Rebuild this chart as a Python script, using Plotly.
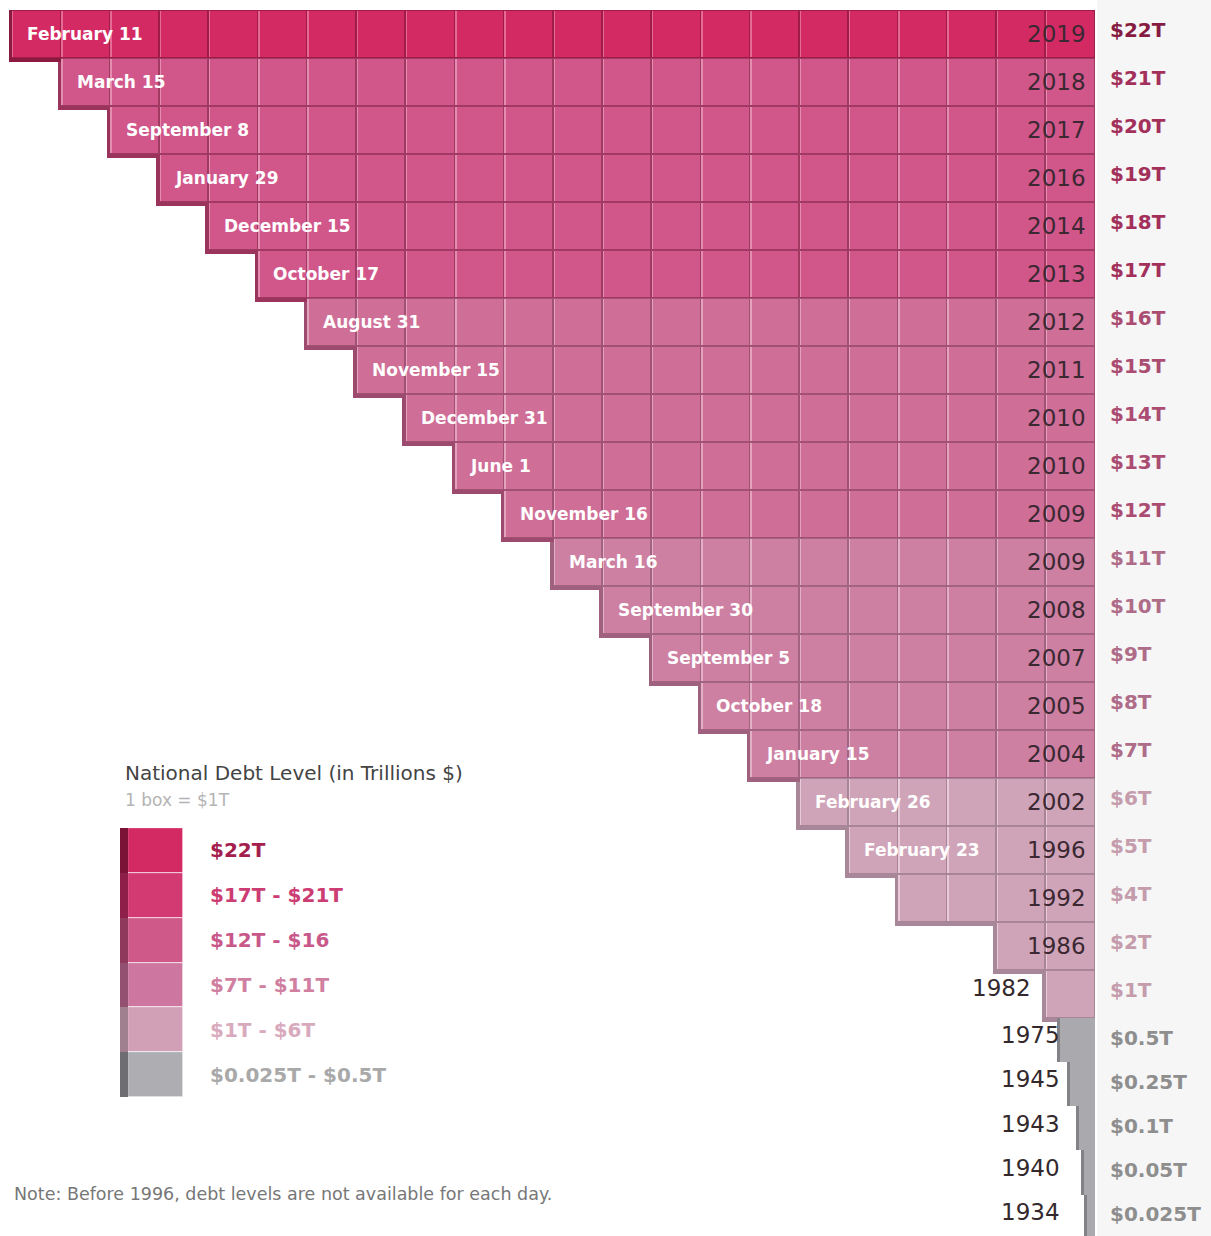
import math
import plotly.graph_objects as go

# ---------------- data ----------------
levels = [22, 21, 20, 19, 18, 17, 16, 15, 14, 13, 12, 11, 10, 9, 8, 7, 6, 5, 4, 2, 1]
dates = ["February 11", "March 15", "September 8", "January 29", "December 15",
         "October 17", "August 31", "November 15", "December 31", "June 1",
         "November 16", "March 16", "September 30", "September 5", "October 18",
         "January 15", "February 26", "February 23", "", "", ""]
years = ["2019", "2018", "2017", "2016", "2014", "2013", "2012", "2011", "2010", "2010",
         "2009", "2009", "2008", "2007", "2005", "2004", "2002", "1996", "1992", "1986", "1982"]
value_labels = ["$22T", "$21T", "$20T", "$19T", "$18T", "$17T", "$16T", "$15T", "$14T", "$13T",
                "$12T", "$11T", "$10T", "$9T", "$8T", "$7T", "$6T", "$5T", "$4T", "$2T", "$1T"]
small_levels = [0.5, 0.25, 0.1, 0.05, 0.025]
small_years = ["1975", "1945", "1943", "1940", "1934"]
small_labels = ["$0.5T", "$0.25T", "$0.1T", "$0.05T", "$0.025T"]

legend_labels = ["$22T", "$17T - $21T", "$12T - $16", "$7T - $11T", "$1T - $6T", "$0.025T - $0.5T"]

# ---------------- styles ----------------
face = ["#d42a63", "#d1568a", "#cf6e96", "#cd80a2", "#cfa4b8", "#aaa9ae"]
edge = ["#9e1c47", "#a13a63", "#a25174", "#a36483", "#a88596", "#8a898e"]
hili = ["#e66a93", "#e48db0", "#e4a2bd", "#e4b0c6", "#e8cad8", "#c8c8cc"]
side = ["#8a1a40", "#9a345c", "#9c4b6e", "#a0617e", "#a88898", "#838287"]
labc = ["#861c42", "#a3305a", "#ab4d72", "#ae6c88", "#c49cac", "#8e8e8e"]
leg_face = ["#d42a63", "#d43a72", "#cf5a89", "#cd77a0", "#d2a0b6", "#aeadb2"]
leg_side = ["#7a1335", "#8d1f48", "#8f3a5d", "#935071", "#a07f8f", "#6e6d72"]
leg_text = ["#a3204e", "#cc3d73", "#c9588a", "#d07fa1", "#d9aabd", "#a9a9a9"]
FONT = "DejaVu Sans"
SIDE_W = 0.07
LINE = 0.03   # thickness of the bevel lines, in box units


def grp(v):
    if v >= 22:
        return 0
    if v >= 17:
        return 1
    if v >= 12:
        return 2
    if v >= 7:
        return 3
    if v >= 1:
        return 4
    return 5


n = len(levels)
rows_y = list(range(n))
SMALL_STEP = 0.92
small_y = [n - 0.5 + SMALL_STEP / 2 + SMALL_STEP * j for j in range(len(small_levels))]
small_w = [math.sqrt(v) for v in small_levels]

fig = go.Figure()

# right-hand label panel
fig.add_shape(type="rect", xref="x", yref="paper", x0=-0.04, x1=-5, y0=0, y1=1,
              fillcolor="#f6f6f6", line=dict(width=0), layer="below")

# boxes: one per trillion (dark outline, light bevel, face)
bx_y, bx_base, bx_g = [], [], []
for y, v in zip(rows_y, levels):
    for k in range(v):
        bx_y.append(y)
        bx_base.append(k)
        bx_g.append(grp(v))
nb = len(bx_y)
fig.add_trace(go.Bar(orientation="h", y=bx_y, x=[1] * nb, base=bx_base, width=1,
                     marker=dict(color=[edge[g] for g in bx_g], line=dict(width=0)),
                     hoverinfo="skip", showlegend=False))
fig.add_trace(go.Bar(orientation="h", y=bx_y, x=[1 - LINE] * nb, base=[b + LINE for b in bx_base],
                     width=1 - 2 * LINE * 0.6,
                     marker=dict(color=[hili[g] for g in bx_g], line=dict(width=0)),
                     hoverinfo="skip", showlegend=False))
fig.add_trace(go.Bar(orientation="h", y=bx_y, x=[1 - 2 * LINE] * nb, base=[b + LINE for b in bx_base],
                     width=1 - 2 * LINE * 0.6,
                     marker=dict(color=[face[g] for g in bx_g], line=dict(width=0)),
                     hoverinfo="skip", showlegend=False))

# 3D side faces (left of each row)
fig.add_trace(go.Bar(orientation="h", y=rows_y, x=[SIDE_W] * n, base=levels, width=1,
                     marker=dict(color=[side[grp(v)] for v in levels], line=dict(width=0)),
                     hoverinfo="skip", showlegend=False))

# 3D bottom faces (exposed part under each step)
next_w = levels[1:] + [small_w[0]]
fig.add_trace(go.Bar(orientation="h", y=[y + 0.5 + 0.04 for y in rows_y],
                     x=[v - nw + SIDE_W for v, nw in zip(levels, next_w)], base=next_w, width=0.08,
                     marker=dict(color=[side[grp(v)] for v in levels], line=dict(width=0)),
                     hoverinfo="skip", showlegend=False))

# small (< $1T) levels
fig.add_trace(go.Bar(orientation="h", y=small_y, x=small_w, base=[0] * len(small_w), width=SMALL_STEP,
                     marker=dict(color=face[5], line=dict(width=0)),
                     hoverinfo="skip", showlegend=False))
fig.add_trace(go.Bar(orientation="h", y=small_y, x=[SIDE_W] * len(small_w), base=small_w, width=SMALL_STEP,
                     marker=dict(color=side[5], line=dict(width=0)),
                     hoverinfo="skip", showlegend=False))

# ---------------- text ----------------
ann = []
for y, v, d, yr, lab in zip(rows_y, levels, dates, years, value_labels):
    g = grp(v)
    if d:
        ann.append(dict(x=v - 0.27, y=y, xref="x", yref="y", text=d, showarrow=False,
                        xanchor="left", yanchor="middle",
                        font=dict(family=FONT, size=17, color="white", weight=700)))
    if v >= 2:
        ann.append(dict(x=0.15, y=y, xref="x", yref="y", text=yr, showarrow=False,
                        xanchor="right", yanchor="middle",
                        font=dict(family=FONT, size=23, color="#3b2832")))
    else:
        ann.append(dict(x=v + 0.26, y=y - 0.12, xref="x", yref="y", text=yr, showarrow=False,
                        xanchor="right", yanchor="middle",
                        font=dict(family=FONT, size=23, color="#33292d")))
    ann.append(dict(x=-0.26, y=y - 0.08, xref="x", yref="y", text=lab, showarrow=False,
                    xanchor="left", yanchor="middle",
                    font=dict(family=FONT, size=20, color=labc[g], weight=700)))

for y, yr, lab in zip(small_y, small_years, small_labels):
    ann.append(dict(x=0.68, y=y - 0.1, xref="x", yref="y", text=yr, showarrow=False,
                    xanchor="right", yanchor="middle",
                    font=dict(family=FONT, size=23, color="#33292d")))
    ann.append(dict(x=-0.26, y=y - 0.05, xref="x", yref="y", text=lab, showarrow=False,
                    xanchor="left", yanchor="middle",
                    font=dict(family=FONT, size=20, color=labc[5], weight=700)))

# ---------------- legend (own axes) ----------------
leg_y = list(range(len(legend_labels)))
fig.add_trace(go.Bar(orientation="h", y=leg_y, x=[1] * len(leg_y), base=[0] * len(leg_y), width=1,
                     marker=dict(color=leg_face, line=dict(color="#ffffff", width=0.6)),
                     xaxis="x2", yaxis="y2", hoverinfo="skip", showlegend=False))
fig.add_trace(go.Bar(orientation="h", y=leg_y, x=[0.15] * len(leg_y), base=[-0.15] * len(leg_y), width=1,
                     marker=dict(color=leg_side, line=dict(width=0)),
                     xaxis="x2", yaxis="y2", hoverinfo="skip", showlegend=False))
for y, lab, c in zip(leg_y, legend_labels, leg_text):
    ann.append(dict(x=208 / 1211, y=y, xref="paper", yref="y2", text=lab, showarrow=False,
                    xanchor="left", yanchor="middle",
                    font=dict(family=FONT, size=20, color=c, weight=700)))

ann.append(dict(x=123 / 1211, y=1 - 773 / 1236, xref="paper", yref="paper",
                text="National Debt Level (in Trillions $)", showarrow=False,
                xanchor="left", yanchor="middle",
                font=dict(family=FONT, size=20, color="#444444")))
ann.append(dict(x=123 / 1211, y=1 - 800 / 1236, xref="paper", yref="paper",
                text="1 box = $1T", showarrow=False, xanchor="left", yanchor="middle",
                font=dict(family=FONT, size=17, color="#b4b4b4")))
ann.append(dict(x=12 / 1211, y=1 - 1194 / 1236, xref="paper", yref="paper",
                text="Note: Before 1996, debt levels are not available for each day.",
                showarrow=False, xanchor="left", yanchor="middle",
                font=dict(family=FONT, size=17.5, color="#777777")))

PX = 1083 / 22  # pixels per box
fig.update_layout(
    width=1211, height=1236,
    margin=dict(l=0, r=0, t=0, b=0),
    paper_bgcolor="white", plot_bgcolor="white",
    barmode="overlay", bargap=0,
    showlegend=False,
    annotations=ann,
    xaxis=dict(range=[22 + 12 / PX, -(1211 - 1095) / PX], visible=False, fixedrange=True),
    yaxis=dict(range=[(1236 - 34) / 48, -34 / 48], visible=False, fixedrange=True),
    xaxis2=dict(domain=[120 / 1211, 183 / 1211], range=[-0.15, 1], visible=False,
                anchor="y2", fixedrange=True),
    yaxis2=dict(domain=[1 - 1097 / 1236, 1 - 828 / 1236], range=[5.5, -0.5], visible=False,
                anchor="x2", fixedrange=True),
)

fig.write_html("out.html")
